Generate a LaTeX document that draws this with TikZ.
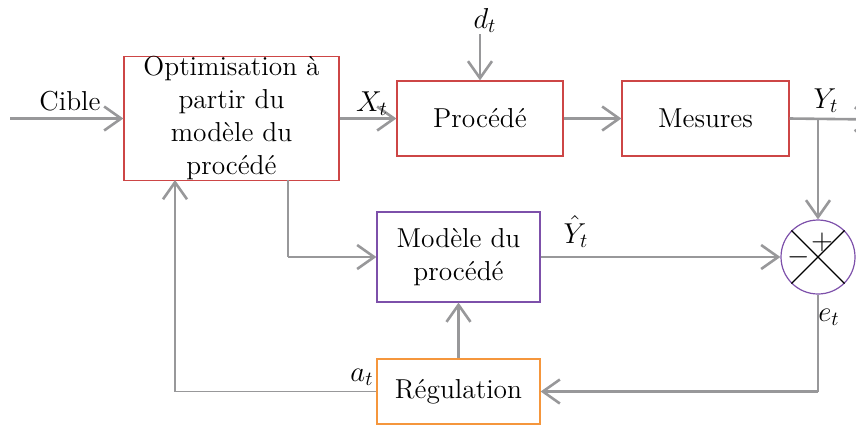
\documentclass[tikz,border=0pt]{standalone}
\usetikzlibrary{arrows.meta,calc}
\definecolor{boxred}{RGB}{205,70,70}
\definecolor{boxpurple}{RGB}{125,80,170}
\definecolor{boxorange}{RGB}{245,150,60}
\definecolor{wire}{RGB}{152,152,154}
\begin{document}
\begin{tikzpicture}[x=0.5pt,y=-0.5pt,
  every node/.style={font=\fontsize{13.7}{16}\selectfont},
  blockbox/.style={draw,line width=0.6pt,inner sep=0pt,align=center},
  conn/.style={draw=wire,line width=1.3pt,-{Straight Barb[length=8.5pt,width=12pt,line width=1.3pt]}},
  thinconn/.style={draw=wire,line width=0.6pt},
  lab/.style={anchor=base,inner sep=0pt}]
\useasboundingbox (0,0) rectangle (856,425);
\node[blockbox,draw=boxred,minimum width=107.5pt,minimum height=61.5pt,
  font=\fontsize{13.7}{16.5}\selectfont] (opt) at (231.5,118.5)
  {Optimisation à\\partir du\\modèle du\\procédé};
\node[blockbox,draw=boxred,minimum width=83pt,minimum height=37.5pt] (proc) at (480,118.5) {Procédé};
\node[blockbox,draw=boxred,minimum width=83.5pt,minimum height=37.5pt] (mes) at (705.5,118.5) {Mesures};
\node[blockbox,draw=boxpurple,minimum width=81.5pt,minimum height=45pt,
  font=\fontsize{13.7}{16.5}\selectfont] (mod) at (458.5,257) {Modèle du\\procédé};
\node[blockbox,draw=boxorange,minimum width=81.5pt,minimum height=32.5pt] (reg) at (458.5,391.5) {Régulation};
\node[circle,draw=boxpurple,line width=0.6pt,minimum size=37pt,inner sep=0pt] (c) at (818,257) {};
\draw[line width=0.6pt] (c.north east) -- (c.south west) (c.north west) -- (c.south east);
\node[inner sep=0pt] (plus) at (822,242) {$+$};
\node[inner sep=0pt] (minus) at (799,257) {$-$};

\coordinate (cin) at (10,118.5);
\coordinate (yout) at (874,119.5);
\coordinate (br) at (818,118.5);
\coordinate (o1) at (288,180);
\coordinate (o2) at (288,257);
\coordinate (e1) at (818,391.5);
\coordinate (a1) at (175,391.5);
\coordinate (a2) at (175,180);

\path[conn] (cin) -- (opt.west);
\path[conn] (opt.east) -- (proc.west);
\path[conn] ($(proc.north)+(0,-46)$) -- (proc.north);
\path[conn] (proc.east) -- (mes.west);
\path[conn] (mes.east) -- (yout);
\path[conn] (br) -- (c.north);
\path[thinconn] (o1) -- (o2);
\path[conn] (o2) -- (mod.west);
\path[conn] (mod.east) -- (c.west);
\path[thinconn] (c.south) -- (e1);
\path[conn] (e1) -- (reg.east);
\path[conn] (reg.north) -- (mod.south);
\path[thinconn] (reg.west) -- (a1);
\path[conn] (a1) -- (a2);

\node[lab] (lcible) at (70,110) {Cible};
\node[lab] (lx) at (372,111) {$X_t$};
\node[lab] (ld) at (485,28) {$d_t$};
\node[lab] (ly) at (826,108) {$Y_t$};
\node[lab] (lyh) at (576,243) {$\hat{Y}_t$};
\node[lab] (le) at (829,321) {$e_t$};
\node[lab] (la) at (362,381) {$a_t$};
\end{tikzpicture}
\end{document}
